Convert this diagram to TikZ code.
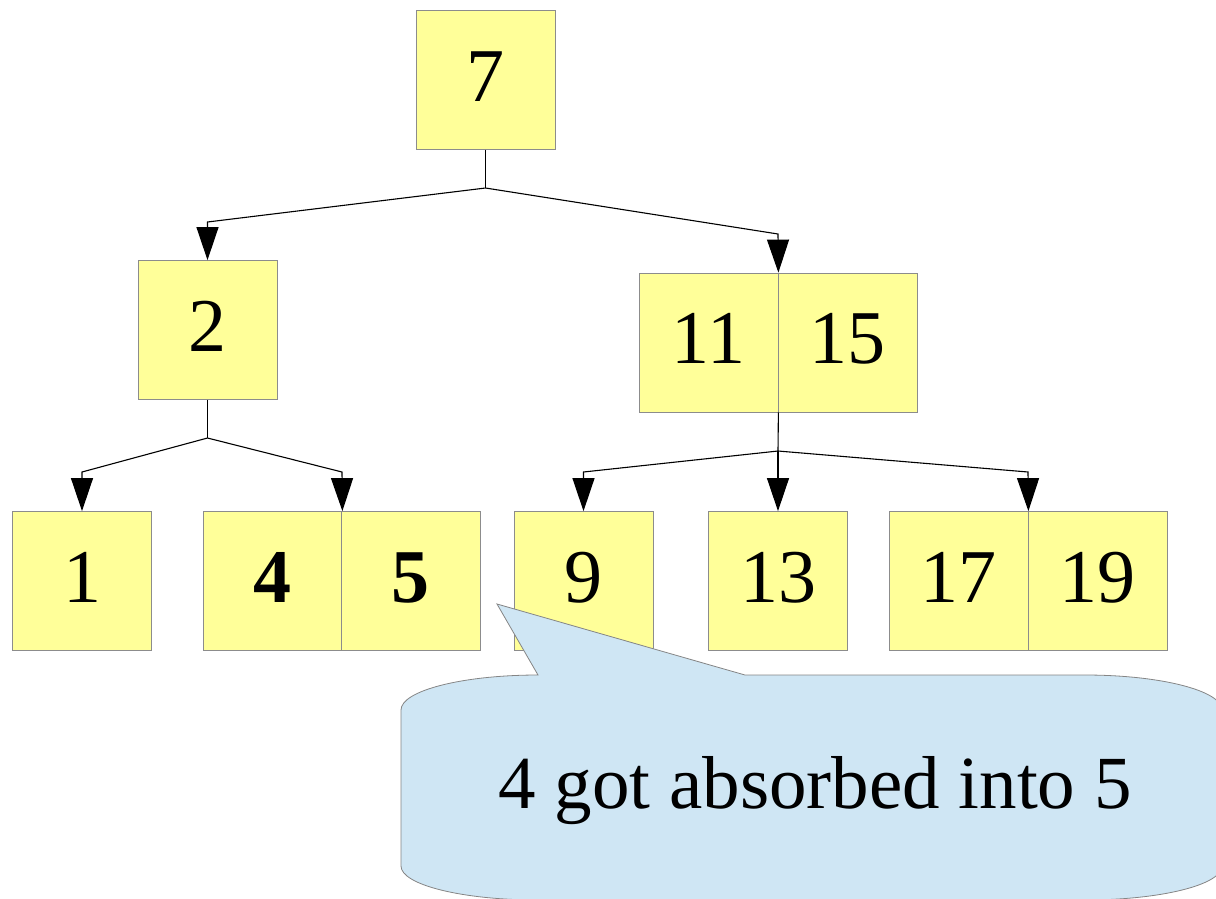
\documentclass[tikz,border=0pt]{standalone}
\usepackage{fontspec}
\setmainfont{Liberation Serif}
\usetikzlibrary{arrows.meta}
\definecolor{boxfill}{HTML}{FFFF99}
\definecolor{boxline}{HTML}{8C8C8C}
\definecolor{notefill}{HTML}{CFE6F4}
\definecolor{noteline}{HTML}{858585}
\tikzset{
  keybox/.style={rectangle, draw=boxline, line width=0.8pt, fill=boxfill,
    minimum width=139pt, minimum height=139pt, inner sep=0pt,
    text height=52pt, text depth=10pt,
    font=\fontsize{76}{80}\selectfont},
  link/.style={draw=black, line width=1.1pt, line join=miter,
    -{Triangle[length=33pt,width=22pt]}},
  trunk/.style={draw=black, line width=1.1pt},
  note/.style={fill=notefill, draw=noteline, line width=0.8pt},
  notetext/.style={font=\fontsize{75}{80}\selectfont, inner sep=0pt}
}
\begin{document}
\begin{tikzpicture}[x=1pt,y=-1pt]
\useasboundingbox (0,0) rectangle (1216,898);
\clip (0,0) rectangle (1216,898);

% tree nodes
\node[keybox] (n7)  at (485.5,80)  {7};
\node[keybox] (n2)  at (207.5,330) {2};
\node[keybox] (n11) at (708.5,342.5) {11};
\node[keybox] (n15) at (847.5,342.5) {15};
\node[keybox] (n1)  at (82,581)    {1};
\node[keybox] (n4)  at (272.5,581) {\bfseries 4};
\node[keybox] (n5)  at (410.5,581) {\bfseries 5};
\node[keybox] (n9)  at (583.5,581) {9};
\node[keybox] (n13) at (778,581)   {13};
\node[keybox] (n17) at (958.5,581) {17};
\node[keybox] (n19) at (1097.5,581) {19};

% branch points
\coordinate (k7)   at (485.5,188);
\coordinate (k7a)  at (207.5,222);
\coordinate (k7b)  at (778,234);
\coordinate (k2)   at (207.5,438);
\coordinate (k2a)  at (82,472);
\coordinate (k2b)  at (342,472);
\coordinate (k11)  at (778,451);
\coordinate (k11a) at (583.5,472);
\coordinate (k11c) at (1028,472);

% connectors
\draw[trunk] (n7.south) -- (k7);
\draw[link] (k7) -- (k7a) -- (n2.north);
\draw[link] (k7) -- (k7b) -- (n11.north east);
\draw[trunk] (n2.south) -- (k2);
\draw[link] (k2) -- (k2a) -- (n1.north);
\draw[link] (k2) -- (k2b) -- (n4.north east);
\draw[trunk] (n11.south east) -- (k11);
\draw[link] (k11) -- (k11a) -- (n9.north);
\draw[link] (k11) -- (n13.north);
\draw[link] (k11) -- (k11c) -- (n17.north east);

% speech bubble
\path[note] (401,710) .. controls (401,690.7) and (462.3,675) .. (538,675)
  -- (497,604) -- (745,675) -- (1085,675)
  .. controls (1160.7,675) and (1222,690.7) .. (1222,710)
  -- (1222,866) .. controls (1222,884.8) and (1160.7,900) .. (1085,900)
  -- (538,900) .. controls (462.3,900) and (401,884.8) .. (401,866)
  -- cycle;
\node[notetext, anchor=base] (msg) at (815,808) {4 got absorbed into 5};
\end{tikzpicture}
\end{document}
